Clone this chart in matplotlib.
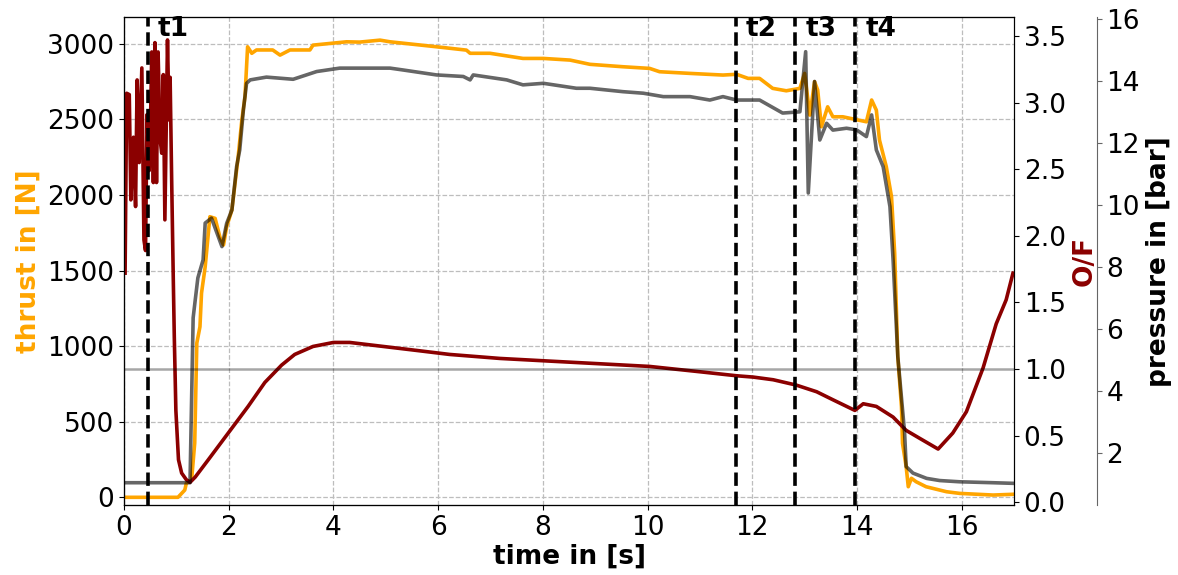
import matplotlib.pyplot as plt

# thrust in [N] (orange, left axis)
t_thrust = [0.0, 1.03, 1.16, 1.19, 1.29, 1.35, 1.39, 1.45, 1.48, 1.55, 1.64, 1.74, 1.83,
            1.90, 1.96, 2.06, 2.12, 2.18, 2.25, 2.31, 2.36, 2.44, 2.53, 2.84, 2.98, 3.17,
            3.55, 3.61, 4.25, 4.50, 4.89, 5.08, 5.97, 6.54, 6.61, 6.99, 7.62, 8.01, 8.52,
            8.90, 9.53, 10.04, 10.23, 10.81, 11.44, 11.70, 11.92, 12.14, 12.39, 12.65, 12.91,
            13.00, 13.10, 13.19, 13.25, 13.32, 13.44, 13.54, 13.73, 14.18, 14.28, 14.37,
            14.43, 14.56, 14.66, 14.72, 14.78, 14.85, 14.87, 14.94, 14.98, 15.04, 15.13,
            15.32, 15.71, 15.96, 16.60, 16.98]
thrust = [0, 0, 48, 93, 114, 359, 1020, 1128, 1351, 1525, 1856, 1845, 1723,
          1669, 1790, 1900, 2077, 2253, 2495, 2650, 2980, 2937, 2959, 2959, 2925, 2959,
          2959, 2991, 3013, 3011, 3024, 3013, 2980, 2958, 2937, 2937, 2903, 2903, 2892,
          2864, 2848, 2837, 2815, 2804, 2793, 2798, 2771, 2771, 2705, 2689, 2705,
          2804, 2528, 2749, 2694, 2451, 2583, 2517, 2517, 2484, 2628, 2561,
          2363, 2187, 1988, 1616, 930, 599, 357, 202, 70, 126, 103,
          70, 37, 26, 15, 20]

# pressure in [bar] (grey, outer right axis)
t_press = [0.0, 1.26, 1.32, 1.36, 1.41, 1.51, 1.55, 1.67, 1.87, 1.96, 2.06, 2.15, 2.21,
           2.28, 2.34, 2.41, 2.72, 3.23, 3.68, 4.12, 5.08, 5.33, 5.97, 6.48, 6.61, 6.67,
           7.31, 7.62, 8.01, 8.64, 8.90, 9.53, 9.92, 10.30, 10.81, 11.19, 11.44, 11.70,
           11.92, 12.14, 12.58, 12.91, 13.02, 13.07, 13.19, 13.29, 13.42, 13.54,
           13.80, 13.99, 14.18, 14.28, 14.37, 14.50, 14.63, 14.69, 14.78, 14.91, 14.94,
           15.07, 15.33, 15.58, 15.96, 16.59, 16.98]
pressure = [1.03, 1.03, 6.35, 6.93, 7.64, 8.22, 9.41, 9.57, 8.65, 9.40, 9.83, 11.23, 11.77,
            13.06, 13.92, 14.03, 14.12, 14.05, 14.30, 14.41, 14.41, 14.35, 14.19, 14.14, 14.03, 14.19,
            14.03, 13.87, 13.92, 13.76, 13.76, 13.65, 13.60, 13.49, 13.49, 13.38, 13.49, 13.38,
            13.38, 13.38, 12.96, 13.00, 14.94, 10.38, 13.98, 12.09, 12.63, 12.41,
            12.47, 12.42, 12.20, 12.90, 11.77, 11.23, 9.94, 8.22, 5.10, 2.64, 1.55,
            1.34, 1.17, 1.10, 1.06, 1.03, 1.01]

# O/F ratio (dark red, inner right axis)
t_of = [0.02, 0.05, 0.10, 0.13, 0.18, 0.22, 0.25, 0.29, 0.34, 0.38, 0.41, 0.44, 0.48, 0.50,
        0.53, 0.56, 0.59, 0.62, 0.65, 0.69, 0.72, 0.75, 0.78, 0.83, 0.86, 0.88, 0.91, 0.94,
        0.96, 0.99, 1.04, 1.10, 1.19, 1.26, 1.36, 1.61, 1.99, 2.37, 2.69, 3.01, 3.26, 3.61,
        4.00, 4.31, 4.95, 5.59, 6.22, 7.18, 8.13, 9.09, 10.04, 11.00, 11.70, 12.02, 12.40,
        12.84, 13.23, 13.54, 13.96, 14.12, 14.37, 14.69, 14.94, 15.20, 15.55, 15.83, 16.09,
        16.41, 16.66, 16.85, 16.98]
of_ratio = [1.72, 3.07, 3.06, 2.27, 2.74, 2.22, 3.17, 2.55, 3.26, 1.97, 1.89, 2.91, 2.49, 2.74,
            3.38, 2.40, 3.45, 2.40, 3.38, 2.72, 2.62, 3.21, 2.12, 3.47, 2.87, 3.19, 2.41, 1.69,
            1.24, 0.69, 0.32, 0.22, 0.17, 0.15, 0.19, 0.32, 0.52, 0.72, 0.90, 1.03, 1.11, 1.17,
            1.20, 1.20, 1.17, 1.14, 1.11, 1.08, 1.06, 1.04, 1.02, 0.98, 0.95, 0.94, 0.92,
            0.88, 0.83, 0.77, 0.69, 0.74, 0.72, 0.64, 0.54, 0.48, 0.40, 0.52, 0.68,
            1.01, 1.34, 1.52, 1.72]

event_times = [0.45, 11.68, 12.82, 13.96]
event_labels = ["t1", "t2", "t3", "t4"]

plt.rcParams['font.size'] = 19

fig = plt.figure(figsize=(11.78, 5.75), dpi=100)
ax = fig.add_axes([0.1053, 0.1217, 0.7555, 0.8482])
ax2 = ax.twinx()
ax3 = ax.twinx()
ax3.spines['right'].set_position(('axes', 1.093))

ax.plot(t_thrust, thrust, color='orange', lw=2.6)
ax2.plot(t_of, of_ratio, color='darkred', lw=2.6)
ax2.axhline(1.0, color='k', alpha=0.35, lw=1.8)
ax3.plot(t_press, pressure, color='k', alpha=0.6, lw=2.6)

for t, lab in zip(event_times, event_labels):
    ax3.axvline(t, color='k', ls='--', lw=2.6)
    ax3.text(t + 0.2, 1.003, lab, transform=ax3.get_xaxis_transform(),
             ha='left', va='top', fontweight='bold')

ax.set_xlim(0, 17)
ax.set_ylim(-51, 3175)
ax2.set_ylim(-0.02, 3.64)
ax3.set_ylim(0.31, 16.05)
ax.set_xticks(range(0, 17, 2))
ax.set_yticks(range(0, 3001, 500))
ax3.set_yticks(range(2, 17, 2))

ax.grid(True, ls='--', color='#bdbdbd', lw=0.9)
ax.set_xlabel('time in [s]', fontweight='bold', labelpad=2)
ax.set_ylabel('thrust in [N]', color='orange', fontweight='bold')
ax2.set_ylabel('O/F', color='darkred', fontweight='bold')
ax3.set_ylabel('pressure in [bar]', fontweight='bold')

ax3.spines['right'].set_color('#666666')
ax3.tick_params(axis='y', colors='#666666', labelcolor='k')

fig.savefig('out.png', dpi=100)
plt.close()
